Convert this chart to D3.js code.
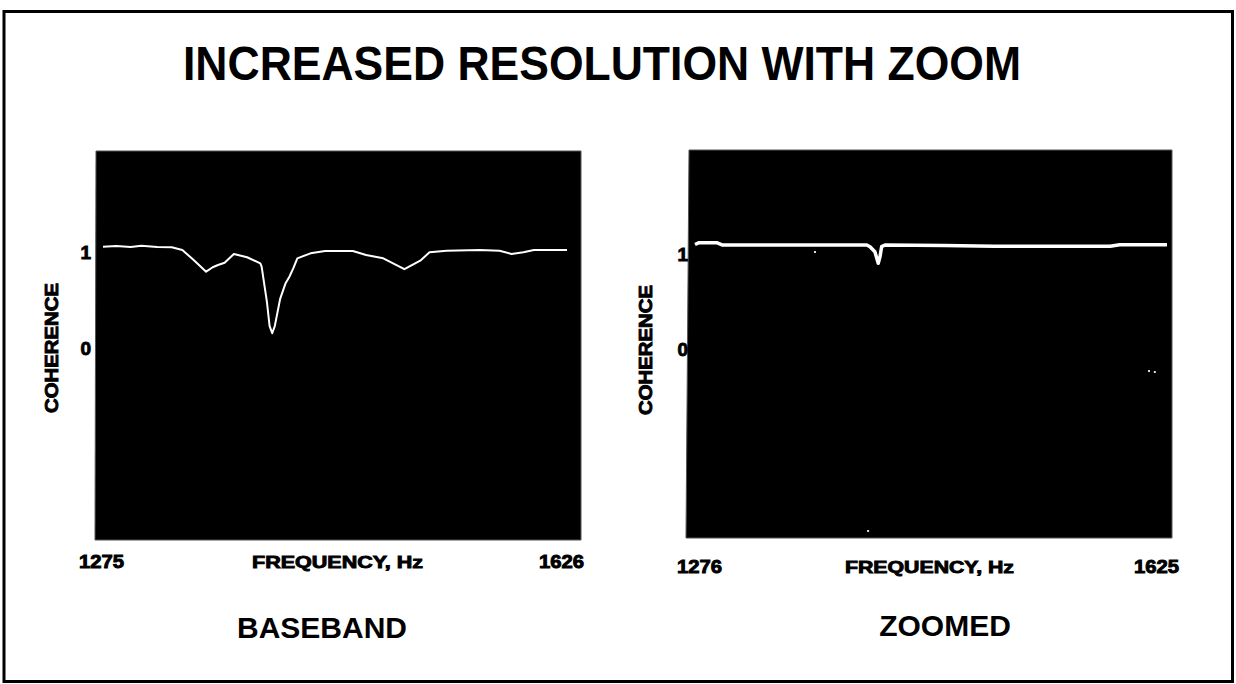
<!DOCTYPE html>
<html>
<head>
<meta charset="utf-8">
<script src="https://cdn.jsdelivr.net/npm/d3@7/dist/d3.min.js"></script>
<style>
  html, body { margin: 0; padding: 0; background: #fff; }
  svg { display: block; }
  text { font-family: "Liberation Sans", Arial, sans-serif; fill: #000; }
  .heavy { stroke: #000; stroke-width: 0.9px; }
</style>
</head>
<body>
<svg id="chart" width="1236" height="684"></svg>
<script>
// Coherence vs frequency, baseband analysis (frequency in Hz, coherence)
const basebandFreq = [1275, 1285, 1296, 1304, 1316, 1327, 1335, 1344, 1353, 1358, 1362, 1367, 1374, 1384, 1394, 1395,
  1399, 1401, 1403, 1405, 1409, 1413, 1416, 1419, 1422, 1432, 1443, 1464, 1474, 1487, 1503, 1515, 1522, 1535,
  1560, 1575, 1584, 1593, 1601, 1626];
const basebandCoh = [1.024, 1.03, 1.02, 1.034, 1.02, 1.018, 0.99, 0.88, 0.764, 0.81, 0.833, 0.857, 0.948, 0.914, 0.851, 0.816,
  0.45, 0.2, 0.122, 0.2, 0.48, 0.64, 0.711, 0.8, 0.903, 0.955, 0.979, 0.979, 0.9375, 0.903, 0.79, 0.878, 0.966, 0.982,
  0.99, 0.982, 0.948, 0.966, 0.99, 0.99];

// Coherence vs frequency, zoomed analysis
const zoomFreq = [1276, 1279, 1292, 1296, 1340, 1380, 1403, 1405.4, 1409, 1411.5, 1412.8, 1414, 1416.5, 1460, 1497, 1540, 1583, 1590, 1625];
const zoomCoh = [1.1, 1.119, 1.119, 1.095, 1.095, 1.095, 1.095, 1.077, 1.024, 0.902, 0.972, 1.077, 1.095, 1.09, 1.081, 1.081, 1.081, 1.098, 1.098];

// Isolated specks inside the zoomed panel
const speckFreq = [1364.7, 1611.7, 1616, 1404];
const speckCoh = [1.021, -0.232, -0.242, -1.916];

const yTicks = [0, 1];
const baseTickLabels = ["1275", "1626"];
const zoomTickLabels = ["1276", "1625"];
const titleText = "INCREASED RESOLUTION WITH ZOOM";
const xAxisTitle = "FREQUENCY, Hz";
const yAxisTitle = "COHERENCE";
const panelNames = ["BASEBAND", "ZOOMED"];

const svg = d3.select("#chart");

// Outer frame
svg.append("rect")
  .attr("x", 4).attr("y", 11.5).attr("width", 1228.5).attr("height", 670)
  .attr("fill", "none").attr("stroke", "#000").attr("stroke-width", 3);

svg.append("text")
  .attr("x", 183).attr("y", 80)
  .attr("font-size", 49).attr("font-weight", "bold")
  .attr("textLength", 838).attr("lengthAdjust", "spacingAndGlyphs")
  .text(titleText);

function drawPanel(cfg) {
  const g = svg.append("g");
  // black plotting field
  g.append("path")
    .attr("d", `M${cfg.box[0]},${cfg.box[1]} L${cfg.box[2]},${cfg.box[1]} L${cfg.box[2]},${cfg.box[3]} L${cfg.box[4]},${cfg.box[3]} Z`)
    .attr("fill", "#000").attr("stroke", "#555").attr("stroke-width", 1);

  const x = d3.scaleLinear().domain(cfg.xDomain).range(cfg.xRange);
  const y = d3.scaleLinear().domain([0, 1]).range(cfg.yRange);

  const pts = cfg.freq.map((f, i) => [f, cfg.coh[i]]);
  g.append("path")
    .datum(pts)
    .attr("fill", "none").attr("stroke", "#fff")
    .attr("stroke-width", cfg.lineWidth).attr("stroke-linejoin", "round")
    .attr("d", d3.line().x(d => x(d[0])).y(d => y(d[1])));

  if (cfg.specks) {
    g.selectAll(".speck").data(cfg.specks).join("rect")
      .attr("x", d => x(d[0]) - 1).attr("y", d => y(d[1]) - 1)
      .attr("width", 2).attr("height", 2).attr("fill", "#ddd");
  }

  // coherence tick labels
  g.selectAll(".ytick").data(yTicks).join("text")
    .attr("class", "heavy")
    .attr("x", cfg.yLabelX).attr("y", d => y(d) + cfg.yLabelDy)
    .attr("text-anchor", "end").attr("font-size", 19).attr("font-weight", "bold")
    .text(d => d);

  // frequency end labels
  g.selectAll(".xtick").data(cfg.xDomain).join("text")
    .attr("class", "heavy")
    .attr("x", (d, i) => i === 0 ? cfg.xLabelPos[0] : cfg.xLabelPos[1])
    .attr("y", cfg.xLabelY)
    .attr("text-anchor", (d, i) => i === 0 ? "start" : "end")
    .attr("font-size", 18).attr("font-weight", "bold")
    .attr("textLength", 45).attr("lengthAdjust", "spacingAndGlyphs")
    .text((d, i) => cfg.tickLabels[i]);

  g.append("text")
    .attr("class", "heavy")
    .attr("x", cfg.xTitle[0]).attr("y", cfg.xLabelY)
    .attr("font-size", 17).attr("font-weight", "bold")
    .attr("textLength", cfg.xTitle[1]).attr("lengthAdjust", "spacingAndGlyphs")
    .text(xAxisTitle);

  g.append("text")
    .attr("class", "heavy")
    .attr("transform", `translate(${cfg.yTitle[0]},${cfg.yTitle[1]}) rotate(-90)`)
    .attr("text-anchor", "middle")
    .attr("font-size", 19).attr("font-weight", "bold")
    .attr("textLength", 130).attr("lengthAdjust", "spacingAndGlyphs")
    .text(yAxisTitle);

  g.append("text")
    .attr("x", cfg.name[0]).attr("y", cfg.nameY)
    .attr("text-anchor", "middle")
    .attr("font-size", 30).attr("font-weight", "bold")
    .text(cfg.name[1]);
}

drawPanel({
  box: [96, 151, 581, 540, 95],
  xDomain: [1275, 1626], xRange: [103, 567],
  yRange: [345, 249],
  freq: basebandFreq, coh: basebandCoh, lineWidth: 2,
  yLabelX: 91, yLabelDy: 10,
  xLabelPos: [79, 584], xLabelY: 568,
  tickLabels: baseTickLabels,
  xTitle: [252, 171],
  yTitle: [58, 348],
  name: [322, panelNames[0]], nameY: 638
});

drawPanel({
  box: [689, 150, 1172, 538, 686],
  xDomain: [1276, 1625], xRange: [695, 1167],
  yRange: [349, 254],
  freq: zoomFreq, coh: zoomCoh, lineWidth: 3.5,
  specks: speckFreq.map((f, i) => [f, speckCoh[i]]),
  yLabelX: 688, yLabelDy: 7,
  xLabelPos: [677, 1179], xLabelY: 573,
  tickLabels: zoomTickLabels,
  xTitle: [845, 169],
  yTitle: [652, 350],
  name: [945, panelNames[1]], nameY: 636
});
</script>
</body>
</html>
